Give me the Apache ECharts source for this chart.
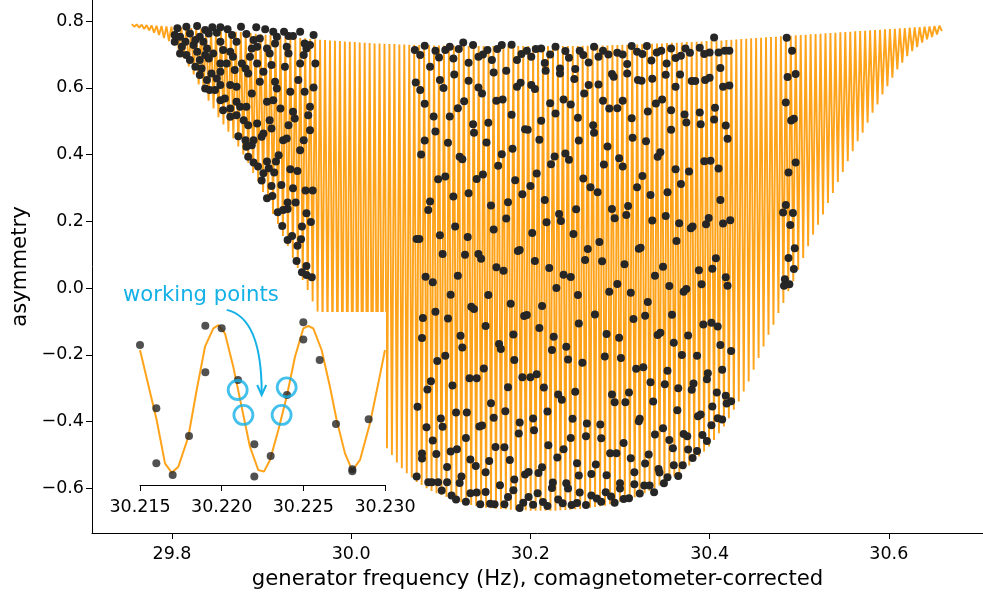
<!DOCTYPE html>
<html><head><meta charset="utf-8">
<script src="https://cdn.jsdelivr.net/npm/echarts@6/dist/echarts.min.js"></script>
<style>html,body{margin:0;padding:0;background:#fff}#c{width:983px;height:596px}</style>
</head><body><div id="c"></div>
<script>
// ---- fringe (fit curve): one peak and one trough per fringe ----
const fringeStart = 29.7551;   // Hz, first fringe peak
const fringePeriod = 0.00553;  // Hz, fringe spacing
const fringeHigh = [
0.791,0.790,0.789,0.788,0.787,0.786,0.785,0.784,0.783,
0.782,0.781,0.780,0.779,0.778,0.777,0.776,0.775,0.774,
0.772,0.771,0.770,0.768,0.767,0.765,0.764,0.762,0.761,
0.759,0.758,0.756,0.755,0.753,0.752,0.750,0.749,0.748,
0.746,0.745,0.744,0.743,0.742,0.741,0.740,0.739,0.738,
0.737,0.736,0.735,0.734,0.733,0.733,0.732,0.731,0.731,
0.730,0.730,0.729,0.729,0.728,0.728,0.728,0.727,0.727,
0.727,0.726,0.726,0.726,0.726,0.725,0.725,0.725,0.725,
0.725,0.725,0.725,0.725,0.725,0.725,0.725,0.725,0.725,
0.725,0.725,0.725,0.725,0.725,0.725,0.725,0.725,0.725,
0.725,0.726,0.726,0.726,0.727,0.727,0.727,0.728,0.728,
0.729,0.729,0.730,0.730,0.731,0.731,0.732,0.733,0.733,
0.734,0.735,0.735,0.736,0.737,0.737,0.738,0.739,0.740,
0.741,0.741,0.742,0.743,0.744,0.745,0.746,0.747,0.748,
0.749,0.750,0.751,0.752,0.753,0.754,0.755,0.756,0.757,
0.758,0.759,0.760,0.761,0.762,0.763,0.764,0.765,0.766,
0.767,0.768,0.769,0.770,0.771,0.772,0.773,0.774,0.775,
0.776,0.777,0.778,0.779,0.780,0.781,0.782,0.783,0.784,0.785,0.786];
const fringeLow = [
0.783,0.780,0.776,0.772,0.765,0.758,0.749,0.740,0.728,0.708,
0.688,0.664,0.640,0.610,0.588,0.561,0.538,0.512,0.490,0.468,
0.448,0.424,0.400,0.375,0.345,0.320,0.288,0.258,0.222,0.192,
0.156,0.126,0.090,0.060,0.024,-0.006,-0.040,-0.070,-0.110,-0.140,
-0.170,-0.210,-0.240,-0.270,-0.295,-0.325,-0.350,-0.380,-0.405,-0.435,
-0.460,-0.480,-0.500,-0.523,-0.540,-0.555,-0.568,-0.581,-0.590,-0.600,
-0.608,-0.615,-0.620,-0.626,-0.632,-0.637,-0.642,-0.646,-0.650,-0.653,
-0.656,-0.658,-0.660,-0.661,-0.662,-0.663,-0.664,-0.665,-0.666,-0.666,
-0.667,-0.667,-0.667,-0.667,-0.667,-0.667,-0.666,-0.665,-0.664,-0.663,
-0.662,-0.660,-0.658,-0.656,-0.654,-0.652,-0.648,-0.644,-0.640,-0.636,
-0.631,-0.627,-0.621,-0.615,-0.608,-0.600,-0.592,-0.584,-0.576,-0.565,
-0.555,-0.543,-0.532,-0.518,-0.505,-0.490,-0.475,-0.455,-0.435,-0.415,
-0.390,-0.365,-0.340,-0.310,-0.280,-0.245,-0.210,-0.175,-0.140,-0.110,
-0.075,-0.045,-0.010,0.020,0.055,0.090,0.125,0.160,0.190,0.220,
0.255,0.285,0.318,0.348,0.380,0.410,0.440,0.465,0.495,0.525,
0.550,0.580,0.605,0.630,0.655,0.675,0.695,0.710,0.722,0.735,
0.745,0.752,0.760,0.770];

// ---- measured points [frequency Hz, asymmetry] ----
const ptsScanLeftTop = [
[29.806,0.778],[29.816,0.783],[29.828,0.785],[29.837,0.773],[29.845,0.781],[29.854,0.781],[29.862,0.775],[29.877,0.783],[29.894,0.781],[29.904,0.775],[29.913,0.768],[29.925,0.768],[29.943,0.768],
[29.803,0.758],[29.809,0.753],[29.820,0.763],[29.831,0.753],[29.841,0.763],[29.850,0.765],[29.867,0.758],[29.883,0.761],[29.898,0.748],[29.917,0.753],[29.930,0.755],[29.935,0.755],[29.958,0.758],
[29.803,0.738],[29.815,0.738],[29.826,0.743],[29.835,0.738],[29.854,0.738],[29.872,0.738],[29.891,0.743],[29.915,0.733],[29.948,0.733],
[29.811,0.723],[29.824,0.728],[29.839,0.718],[29.857,0.713],[29.865,0.708],[29.889,0.718],[29.895,0.723],[29.906,0.718],[29.928,0.723],[29.950,0.718],[29.954,0.728],
[29.809,0.703],[29.816,0.698],[29.828,0.708],[29.837,0.698],[29.846,0.703],[29.868,0.693],[29.887,0.693],[29.909,0.703],[29.930,0.703],[29.947,0.698],
[29.820,0.683],[29.831,0.683],[29.841,0.688],[29.854,0.673],[29.861,0.673],[29.878,0.673],[29.895,0.673],[29.911,0.668],[29.926,0.663],[29.943,0.673],[29.960,0.673],
[29.826,0.663],[29.833,0.658],[29.870,0.653],[29.882,0.658],[29.885,0.643],[29.902,0.648],[29.831,0.638],[29.844,0.643],[29.854,0.648],
[29.839,0.623],[29.850,0.628],[29.865,0.608],[29.872,0.603],[29.898,0.618],[29.915,0.618],[29.941,0.623],
[29.837,0.598],[29.842,0.593],[29.854,0.608],[29.889,0.583],[29.917,0.598],[29.932,0.588],[29.948,0.588],[29.958,0.601],[29.848,0.593],
[29.854,0.563],[29.859,0.568],[29.872,0.558],[29.876,0.543],[29.883,0.543],[29.906,0.558],[29.913,0.563],[29.921,0.538],[29.935,0.528],[29.954,0.543],[29.857,0.533],[29.865,0.538],
[29.865,0.513],[29.872,0.518],[29.880,0.503],[29.895,0.493],[29.909,0.503],[29.937,0.508],[29.952,0.518],
[29.885,0.488],[29.911,0.478],[29.930,0.488],[29.954,0.473],
[29.874,0.455],[29.882,0.443],[29.891,0.443],[29.900,0.453],[29.902,0.463],[29.924,0.443],[29.928,0.448],[29.947,0.443],[29.883,0.423],[29.889,0.428],[29.943,0.413],[29.919,0.398],[29.885,0.393]];
const ptsScanLeftLow = [
[29.891,0.376],[29.906,0.379],[29.916,0.379],[29.896,0.364],[29.902,0.344],[29.908,0.359],[29.914,0.346],[29.900,0.322],[29.911,0.306],[29.922,0.309],
[29.932,0.356],[29.940,0.351],[29.935,0.299],[29.949,0.292],[29.957,0.292],[29.906,0.269],[29.912,0.276],[29.929,0.256],[29.938,0.256],[29.918,0.227],
[29.924,0.234],[29.929,0.237],[29.950,0.224],[29.955,0.198],[29.923,0.186],[29.945,0.184],[29.929,0.144],[29.934,0.156],[29.944,0.146],[29.940,0.127],
[29.939,0.081],[29.950,0.066],[29.945,0.047],[29.950,0.039],[29.956,0.032]];
const ptsScanMidTop = [
[30.071,0.713],[30.077,0.698],[30.082,0.726],[30.094,0.711],[30.098,0.691],[30.105,0.713],[30.110,0.723],[30.114,0.688],[30.120,0.716],[30.125,0.736],
[30.131,0.675],[30.136,0.728],[30.142,0.693],[30.147,0.700],[30.152,0.713],[30.157,0.683],[30.163,0.716],[30.168,0.728],[30.179,0.729],[30.185,0.683],
[30.190,0.701],[30.196,0.711],[30.201,0.693],[30.206,0.716],[30.212,0.718],[30.216,0.674],[30.217,0.651],[30.222,0.700],[30.228,0.723],[30.233,0.658],
[30.239,0.710],[30.243,0.690],[30.250,0.656],[30.255,0.711],[30.088,0.663],[30.115,0.640],[30.131,0.621],[30.159,0.646],[30.173,0.651],[30.072,0.616],
[30.077,0.593],[30.099,0.623],[30.103,0.599],[30.142,0.601],[30.146,0.583],[30.185,0.603],[30.189,0.615],[30.201,0.608],[30.205,0.596],[30.233,0.643],
[30.249,0.626],[30.082,0.552],[30.126,0.560],[30.119,0.539],[30.162,0.561],[30.169,0.565],[30.222,0.554],[30.228,0.523],[30.237,0.565],[30.245,0.550],
[30.253,0.510],[30.092,0.514],[30.110,0.514],[30.179,0.519],[30.212,0.501],[30.136,0.491],[30.137,0.465],[30.153,0.495],[30.094,0.469],[30.194,0.476],
[30.197,0.474],[30.082,0.442],[30.108,0.435],[30.151,0.436],[30.210,0.444],[30.254,0.442],[30.078,0.400],[30.121,0.393],[30.124,0.386],[30.168,0.401],
[30.180,0.417],[30.164,0.366],[30.227,0.394],[30.239,0.403],[30.243,0.384],[30.223,0.371],[30.097,0.326],[30.105,0.334],[30.140,0.327],[30.147,0.340],
[30.207,0.343],[30.183,0.323]];
const ptsScanRightTop = [
[30.259,0.698],[30.265,0.676],[30.271,0.723],[30.276,0.693],[30.281,0.711],[30.287,0.700],[30.297,0.705],[30.303,0.700],[30.308,0.671],[30.313,0.725],
[30.308,0.643],[30.291,0.641],[30.293,0.633],[30.319,0.708],[30.325,0.701],[30.330,0.725],[30.335,0.682],[30.341,0.706],[30.346,0.711],[30.352,0.673],
[30.357,0.718],[30.362,0.689],[30.368,0.696],[30.373,0.718],[30.378,0.705],[30.389,0.720],[30.394,0.701],[30.400,0.706],[30.405,0.751],[30.410,0.706],
[30.412,0.659],[30.417,0.711],[30.422,0.711],[30.351,0.639],[30.367,0.640],[30.320,0.623],[30.324,0.621],[30.336,0.627],[30.380,0.620],[30.384,0.620],
[30.395,0.623],[30.400,0.630],[30.415,0.603],[30.422,0.607],[30.260,0.583],[30.265,0.608],[30.276,0.610],[30.281,0.561],[30.288,0.538],[30.297,0.539],
[30.303,0.561],[30.313,0.509],[30.331,0.529],[30.340,0.553],[30.347,0.565],[30.357,0.533],[30.362,0.603],[30.372,0.520],[30.374,0.496],[30.389,0.526],
[30.390,0.491],[30.406,0.540],[30.405,0.505],[30.418,0.487],[30.420,0.447],[30.270,0.488],[30.271,0.465],[30.286,0.424],[30.314,0.450],[30.329,0.440],
[30.357,0.474],[30.299,0.389],[30.303,0.364],[30.282,0.370],[30.342,0.393],[30.345,0.407],[30.362,0.356],[30.377,0.349],[30.394,0.380],[30.401,0.381],
[30.410,0.358],[30.325,0.336],[30.259,0.328]];
const ptsScanMidMid = [
[30.088,0.259],[30.086,0.234],[30.114,0.274],[30.131,0.284],[30.156,0.247],[30.175,0.257],[30.191,0.281],[30.200,0.306],[30.216,0.264],[30.232,0.222],
[30.234,0.201],[30.251,0.236],[30.218,0.197],[30.173,0.208],[30.116,0.184],[30.099,0.158],[30.073,0.147],[30.076,0.147],[30.130,0.153],[30.159,0.175],
[30.202,0.165],[30.248,0.162],[30.102,0.102],[30.127,0.100],[30.142,0.102],[30.145,0.088],[30.186,0.111],[30.188,0.114],[30.205,0.081],[30.221,0.060],
[30.162,0.062],[30.170,0.052],[30.083,0.034],[30.091,0.017],[30.119,0.037],[30.237,0.040],[30.245,0.033],[30.229,0.000],[30.253,-0.021],[30.111,-0.020],
[30.153,-0.021],[30.178,-0.047],[30.213,-0.054],[30.134,-0.056],[30.137,-0.063],[30.080,-0.090],[30.094,-0.071],[30.108,-0.091],[30.150,-0.114],[30.193,-0.084],
[30.196,-0.081],[30.210,-0.120],[30.226,-0.146],[30.181,-0.139],[30.122,-0.143],[30.079,-0.150],[30.254,-0.106]];
const ptsScanRightMid = [
[30.267,0.302],[30.275,0.287],[30.319,0.302],[30.334,0.279],[30.353,0.287],[30.368,0.312],[30.291,0.237],[30.294,0.209],[30.309,0.246],[30.307,0.219],
[30.336,0.202],[30.351,0.216],[30.366,0.194],[30.381,0.184],[30.379,0.179],[30.396,0.191],[30.399,0.210],[30.412,0.264],[30.415,0.193],[30.423,0.203],
[30.277,0.138],[30.264,0.117],[30.261,0.084],[30.280,0.080],[30.305,0.071],[30.321,0.118],[30.323,0.121],[30.363,0.141],[30.348,0.064],[30.339,0.037],
[30.297,0.012],[30.288,-0.011],[30.312,-0.014],[30.355,0.006],[30.388,0.053],[30.407,0.089],[30.403,0.058],[30.418,0.032],[30.420,0.007],[30.391,0.011],
[30.374,-0.003],[30.371,-0.011],[30.331,-0.042],[30.272,-0.079],[30.315,-0.093],[30.328,-0.083],[30.358,-0.080],[30.285,-0.138],[30.299,-0.149],[30.342,-0.141],
[30.345,-0.134],[30.376,-0.142],[30.393,-0.109],[30.402,-0.104],[30.409,-0.115]];
const ptsScanMidLow = [
[30.124,-0.178],[30.165,-0.168],[30.167,-0.183],[30.182,-0.216],[30.224,-0.186],[30.240,-0.176],[30.242,-0.214],[30.096,-0.219],[30.105,-0.203],[30.089,-0.279],
[30.085,-0.304],[30.113,-0.292],[30.132,-0.270],[30.140,-0.270],[30.148,-0.241],[30.175,-0.297],[30.191,-0.267],[30.200,-0.267],[30.207,-0.258],[30.215,-0.298],
[30.231,-0.319],[30.235,-0.335],[30.250,-0.311],[30.074,-0.356],[30.100,-0.391],[30.102,-0.416],[30.084,-0.417],[30.117,-0.373],[30.129,-0.373],[30.156,-0.345],
[30.159,-0.389],[30.172,-0.369],[30.143,-0.415],[30.146,-0.412],[30.188,-0.403],[30.187,-0.436],[30.203,-0.391],[30.204,-0.426],[30.219,-0.370],[30.247,-0.392],
[30.091,-0.457],[30.128,-0.449],[30.245,-0.449],[30.079,-0.496],[30.079,-0.511],[30.095,-0.497],[30.111,-0.490],[30.118,-0.483],[30.161,-0.476],[30.171,-0.477],
[30.220,-0.471],[30.237,-0.483],[30.133,-0.514],[30.139,-0.533],[30.154,-0.518],[30.177,-0.515],[30.230,-0.508],[30.107,-0.536],[30.150,-0.552],[30.194,-0.559],
[30.198,-0.551],[30.209,-0.554],[30.213,-0.537],[30.252,-0.525],[30.073,-0.565],[30.086,-0.582],[30.090,-0.582],[30.097,-0.582],[30.107,-0.582],[30.123,-0.565],
[30.121,-0.584],[30.166,-0.591],[30.182,-0.574],[30.225,-0.583],[30.224,-0.599],[30.240,-0.585],[30.242,-0.601],[30.254,-0.562],[30.101,-0.607],[30.112,-0.622],
[30.117,-0.634],[30.128,-0.640],[30.133,-0.615],[30.140,-0.613],[30.150,-0.611],[30.175,-0.626],[30.181,-0.606],[30.198,-0.626],[30.208,-0.615],[30.144,-0.648],
[30.155,-0.646],[30.160,-0.648],[30.171,-0.648],[30.188,-0.659],[30.192,-0.643],[30.203,-0.649],[30.214,-0.641],[30.219,-0.653],[30.231,-0.634],[30.236,-0.645],
[30.246,-0.650],[30.252,-0.644],[30.255,-0.613]];
const ptsScanRightLow = [
[30.258,-0.224],[30.283,-0.205],[30.301,-0.210],[30.318,-0.242],[30.326,-0.237],[30.353,-0.248],[30.360,-0.164],[30.369,-0.201],[30.386,-0.203],[30.412,-0.171],
[30.424,-0.189],[30.414,-0.245],[30.398,-0.255],[30.397,-0.273],[30.382,-0.286],[30.380,-0.305],[30.365,-0.300],[30.350,-0.288],[30.334,-0.282],[30.310,-0.313],
[30.291,-0.319],[30.294,-0.342],[30.306,-0.342],[30.337,-0.340],[30.364,-0.366],[30.408,-0.313],[30.418,-0.323],[30.424,-0.339],[30.419,-0.346],[30.403,-0.355],
[30.322,-0.392],[30.321,-0.399],[30.263,-0.406],[30.278,-0.409],[30.262,-0.444],[30.279,-0.450],[30.304,-0.464],[30.339,-0.439],[30.348,-0.420],[30.355,-0.455],
[30.371,-0.437],[30.375,-0.444],[30.387,-0.384],[30.390,-0.379],[30.392,-0.440],[30.397,-0.458],[30.409,-0.390],[30.414,-0.394],[30.402,-0.411],[30.359,-0.480],
[30.376,-0.484],[30.386,-0.488],[30.381,-0.509],[30.289,-0.495],[30.296,-0.495],[30.312,-0.510],[30.332,-0.499],[30.328,-0.526],[30.273,-0.529],[30.268,-0.557],
[30.285,-0.561],[30.316,-0.552],[30.343,-0.542],[30.344,-0.553],[30.360,-0.531],[30.370,-0.531],[30.365,-0.563],[30.353,-0.567],[30.349,-0.585],[30.300,-0.585],
[30.300,-0.601],[30.316,-0.588],[30.327,-0.592],[30.333,-0.592],[30.322,-0.616],[30.338,-0.612],[30.284,-0.612],[30.290,-0.625],[30.268,-0.622],[30.274,-0.631],
[30.279,-0.640],[30.294,-0.643],[30.304,-0.632],[30.310,-0.630],[30.262,-0.650]];
const ptsScanEdge = [
[30.486,0.750],[30.492,0.711],[30.487,0.632],[30.496,0.641],[30.485,0.556],[30.491,0.502],[30.494,0.507],[30.496,0.376],[30.488,0.346],[30.485,0.249],
[30.482,0.226],[30.493,0.225],[30.490,0.189],[30.495,0.119],[30.488,0.090],[30.494,0.057],[30.484,0.026],[30.483,0.007],[30.489,0.011]];

// ---- inset (zoom on 30.215 - 30.230 Hz) ----
const insetCurve = [
[30.21500,0.492],[30.21602,-0.168],[30.21653,-0.576],[30.21694,-0.664],[30.21735,-0.607],[30.21796,-0.325],[30.21847,0.115],[30.21898,0.523],
[30.21949,0.696],[30.21980,0.727],[30.22020,0.649],[30.22071,0.335],[30.22122,-0.042],[30.22173,-0.419],[30.22224,-0.639],[30.22259,-0.654],
[30.22296,-0.544],[30.22347,-0.262],[30.22398,0.052],[30.22449,0.429],[30.22500,0.696],[30.22531,0.718],[30.22561,0.696],[30.22612,0.492],
[30.22663,0.146],[30.22704,-0.168],[30.22755,-0.482],[30.22800,-0.645],[30.22847,-0.544],[30.22908,-0.199],[30.22959,0.178],[30.23000,0.492]];
const insetPoints = [
[30.215,0.539],[30.216,-0.058],[30.216,-0.576],[30.217,-0.686],[30.218,-0.318],[30.219,0.721],[30.219,0.282],[30.220,0.696],[30.221,0.209],
[30.222,-0.397],[30.222,-0.701],[30.223,-0.507],[30.224,0.068],[30.225,0.753],[30.225,0.592],[30.226,0.398],[30.227,-0.205],[30.228,-0.632],
[30.228,-0.650],[30.229,-0.161]];
const workingPoints = [[30.22098,0.115],[30.22133,-0.120],[30.22398,0.140],[30.22367,-0.120]];
const annotationText = 'working points';
const annotationTextAt = [30.21396, 1.01];
const arrowFrom = [30.22031, 0.87];
const arrowTo = [30.22245, 0.068];

const xTicks = [29.8, 30.0, 30.2, 30.4, 30.6];
const yTicks = [-0.6, -0.4, -0.2, 0.0, 0.2, 0.4, 0.6, 0.8];
const insetTicks = [30.215, 30.220, 30.225, 30.230];
const xTitle = 'generator frequency (Hz), comagnetometer-corrected';
const yTitle = 'asymmetry';

// ---- build ----
const fringeLine = [];
for (let k = 0; k < fringeHigh.length; k++) {
  fringeLine.push([fringeStart + k * fringePeriod, fringeHigh[k]]);
  fringeLine.push([fringeStart + (k + 0.5) * fringePeriod, fringeLow[k]]);
}
const allPoints = [].concat(ptsScanLeftTop, ptsScanLeftLow, ptsScanMidTop, ptsScanRightTop,
  ptsScanMidMid, ptsScanRightMid, ptsScanMidLow, ptsScanRightLow, ptsScanEdge);

const FONT = 'DejaVu Sans';
const ORANGE = '#ffa31a';
const DOT = '#262626';
const CYAN = '#14b1e7';
const TICK_FS = 17.5;
const TITLE_FS = 21.2;
const minus = v => (v < 0 ? '\u2212' : '') + Math.abs(v).toFixed(1);

const chart = echarts.init(document.getElementById('c'), null, {renderer: 'canvas'});
chart.setOption({
  backgroundColor: '#fff',
  animation: false,
  grid: [
    {left: 92, top: 0, width: 891, height: 533, outerBoundsMode: 'none', containLabel: false},
    {left: 140, top: 312, width: 245, height: 173, outerBoundsMode: 'none', containLabel: false}
  ],
  xAxis: [
    {type: 'value', gridIndex: 0, min: 29.7107, max: 30.7051,
     axisLine: {show: true, onZero: false, lineStyle: {color: '#000', width: 1}},
     axisTick: {show: true, length: 6, lineStyle: {color: '#000'}, customValues: xTicks},
     axisLabel: {show: true, customValues: xTicks, formatter: v => v.toFixed(1), color: '#000', fontFamily: FONT, fontSize: TICK_FS, margin: 12},
     splitLine: {show: false},
     name: xTitle, nameLocation: 'middle', nameGap: 36,
     nameTextStyle: {color: '#000', fontFamily: FONT, fontSize: TITLE_FS}},
    {type: 'value', gridIndex: 1, min: 30.215, max: 30.230, z: 20,
     axisLine: {show: true, onZero: false, lineStyle: {color: '#000', width: 1}},
     axisTick: {show: true, length: 6, lineStyle: {color: '#000'}, customValues: insetTicks},
     axisLabel: {show: true, customValues: insetTicks, formatter: v => v.toFixed(3), color: '#000', fontFamily: FONT, fontSize: TICK_FS, margin: 13},
     splitLine: {show: false}}
  ],
  yAxis: [
    {type: 'value', gridIndex: 0, min: -0.734, max: 0.863,
     axisLine: {show: true, onZero: false, lineStyle: {color: '#000', width: 1}},
     axisTick: {show: true, length: 6, lineStyle: {color: '#000'}, customValues: yTicks},
     axisLabel: {show: true, customValues: yTicks, formatter: minus, color: '#000', fontFamily: FONT, fontSize: TICK_FS, margin: 8},
     splitLine: {show: false},
     name: yTitle, nameLocation: 'middle', nameGap: 60, nameRotate: 90,
     nameTextStyle: {color: '#000', fontFamily: FONT, fontSize: TITLE_FS}},
    {type: 'value', gridIndex: 1, min: -0.78, max: 0.85, z: 20,
     axisLine: {show: false}, axisTick: {show: false}, axisLabel: {show: false}, splitLine: {show: false}}
  ],
  series: [
    {type: 'line', name: 'fringe', xAxisIndex: 0, yAxisIndex: 0, data: fringeLine, showSymbol: false,
     symbol: 'none', lineStyle: {color: ORANGE, width: 1.9}, z: 2, silent: true},
    {type: 'scatter', name: 'data', xAxisIndex: 0, yAxisIndex: 0, data: allPoints, symbolSize: 8,
     itemStyle: {color: DOT, opacity: 1}, z: 3, silent: true},
    {type: 'line', name: 'insetFringe', xAxisIndex: 1, yAxisIndex: 1, data: insetCurve, showSymbol: false,
     symbol: 'none', lineStyle: {color: ORANGE, width: 2}, z: 20, silent: true, clip: true},
    {type: 'scatter', name: 'insetData', xAxisIndex: 1, yAxisIndex: 1, data: insetPoints, symbolSize: 8,
     itemStyle: {color: DOT}, z: 21, silent: true},
    {type: 'scatter', name: 'working', xAxisIndex: 1, yAxisIndex: 1, data: workingPoints, symbol: 'circle', symbolSize: 19,
     itemStyle: {color: 'rgba(0,0,0,0)', borderColor: CYAN, borderWidth: 2.8}, z: 22, silent: true}
  ]
});

// annotation layer (positions converted from inset data coordinates)
const P = v => chart.convertToPixel({xAxisIndex: 1, yAxisIndex: 1}, v);
const t = P(annotationTextAt), s = P(arrowFrom), e = P(arrowTo);
chart.setOption({
  graphic: [
    {type: 'rect', shape: {x: 140, y: 312, width: 246, height: 174}, style: {fill: '#fff'}, z: 10, silent: true},
    {type: 'text', x: t[0], y: t[1], z: 30, style: {text: annotationText, fill: CYAN, font: TITLE_FS + 'px "DejaVu Sans"', align: 'left', verticalAlign: 'middle', textAlign: 'left', textVerticalAlign: 'middle'}},
    {type: 'bezierCurve', z: 30, shape: {x1: s[0], y1: s[1], cpx1: e[0], cpy1: s[1] + 8, x2: e[0], y2: e[1] - 2},
     style: {stroke: CYAN, lineWidth: 2, fill: null}},
    {type: 'polyline', z: 30, shape: {points: [[e[0] - 4.5, e[1] - 10], [e[0], e[1]], [e[0] + 4.5, e[1] - 10]]},
     style: {stroke: CYAN, lineWidth: 2, fill: null}}
  ]
});
</script></body></html>
